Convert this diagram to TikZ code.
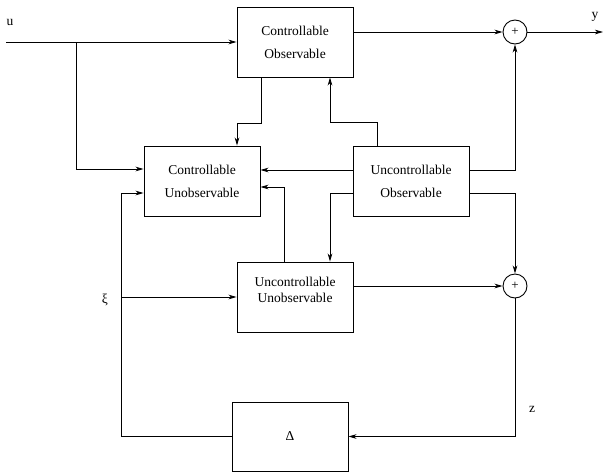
\documentclass[tikz,border=0pt]{standalone}
\usepackage{fontspec}
\setmainfont{Liberation Serif}
\usetikzlibrary{arrows.meta,calc}
\begin{document}
\begin{tikzpicture}[x=1pt,y=-1pt,
  line width=0.9pt,
  >={Stealth[length=8pt,width=4.6pt,inset=2.2pt]},
  blk/.style={draw,rectangle,minimum width=116pt,minimum height=70pt,inner sep=0pt,align=center,font=\fontsize{13.5}{23}\selectfont},
  sumc/.style={draw,circle,minimum size=24pt,inner sep=0pt,font=\fontsize{13}{13}\selectfont},
  lbl/.style={inner sep=0pt,font=\fontsize{13.5}{16}\selectfont}]
\useasboundingbox (0,0) rectangle (605,472);
% blocks
\node[blk] (CO) at (295,42) {Controllable\\Observable};
\node[blk] (CU) at (202,181) {Controllable\\Unobservable};
\node[blk] (UO) at (411,181) {Uncontrollable\\Observable};
\node[blk] (UU) at (295,297) {};
\node[lbl,align=center] (UUt) at (295,290) {Uncontrollable\\Unobservable};
\node[blk,minimum height=69pt] (D) at (290,436.5) {Δ};
\node[sumc] (S1) at (515,32) {+};
\node[sumc] (S2) at (515,286) {+};
% helper coordinates
\coordinate (uin) at (6,42);
\coordinate (ub) at (76,42);
\coordinate (yout) at (603,32);
\coordinate (xi) at (122,297);
% labels
\node[lbl] (ul) at (10,22) {u};
\node[lbl] (yl) at (595,17) {y};
\node[lbl] (zl) at (532,409) {z};
\node[lbl] (xil) at (105,300) {ξ};
% connectors
\draw[->] (uin) -- (CO.west);
\draw[->] (ub) |- ($(CU.west)+(0,-12)$);
\draw[->] ($(CO.east)+(0,-10)$) -- (S1.west);
\draw[->] (S1.east) -- (yout);
\draw[->] ($(CO.south)+(-34,0)$) -- ++(0,46) -| ($(CU.north)+(35,0)$);
\draw[->] ($(UO.north)+(-34,0)$) -- ++(0,-23) -| ($(CO.south)+(35,0)$);
\draw[->] ($(UO.west)+(0,-11)$) -- ($(CU.east)+(0,-11)$);
\draw[->] ($(UO.east)+(0,-11)$) -| (S1.south);
\draw[->] ($(UO.west)+(0,12)$) -| ($(UU.north)+(35,0)$);
\draw[->] ($(UO.east)+(0,12)$) -| (S2.north);
\draw[->] ($(UU.north)+(-11,0)$) |- ($(CU.east)+(0,6)$);
\draw[->] ($(UU.east)+(0,-11)$) -- (S2.west);
\draw[->] (S2.south) |- (D.east);
\draw[->] (D.west) -| ($(CU.west)+(-22,12)$) -- ($(CU.west)+(0,12)$);
\draw[->] (xi) -- (UU.west);
\end{tikzpicture}
\end{document}
